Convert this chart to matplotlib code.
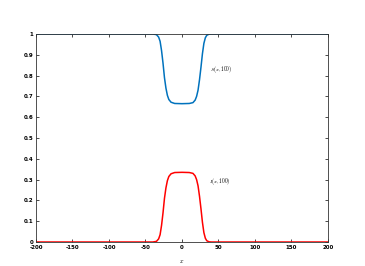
import matplotlib
matplotlib.use("Agg")
import matplotlib.pyplot as plt

plt.rcParams["mathtext.fontset"] = "cm"

# values (x, S(x,100), I(x,100))
x_pts = [-200, -40, -35, -32, -30, -28, -26, -24, -22, -20, -18, -15, -10, 0,
         10, 15, 18, 20, 22, 24, 26, 28, 30, 32, 34, 37, 40, 200]
i_vals = [0, 0, 0.003, 0.015, 0.035, 0.08, 0.14, 0.21, 0.26, 0.295, 0.315, 0.328,
          0.334, 0.335, 0.334, 0.33, 0.318, 0.30, 0.27, 0.22, 0.16, 0.095, 0.045,
          0.018, 0.006, 0.001, 0, 0]
s_vals = [1, 1, 0.997, 0.985, 0.965, 0.92, 0.86, 0.79, 0.74, 0.705, 0.685, 0.672,
          0.666, 0.665, 0.666, 0.67, 0.682, 0.70, 0.73, 0.78, 0.84, 0.905, 0.955,
          0.982, 0.994, 0.999, 1, 1]
x_ticks = [-200, -150, -100, -50, 0, 50, 100, 150, 200]
y_ticks = [0, 0.1, 0.2, 0.3, 0.4, 0.5, 0.6, 0.7, 0.8, 0.9, 1]

fig = plt.figure(figsize=(3.65, 2.66), dpi=100)
ax = fig.add_axes([0.0986, 0.0902, 0.8, 0.782])
ax.plot(x_pts, s_vals, color="#0072BD", lw=1.1)
ax.plot(x_pts, i_vals, color="red", lw=1.1)
ax.set_xlim(-200, 200)
ax.set_ylim(0, 1)
ax.set_xticks(x_ticks)
ax.set_yticks(y_ticks)
ax.set_xticklabels([f"{v:g}" for v in x_ticks])
ax.set_yticklabels([f"{v:g}" for v in y_ticks])
ax.tick_params(direction="in", length=2, width=0.5, labelsize=4,
               top=True, right=True, pad=2)
for lab in ax.get_xticklabels() + ax.get_yticklabels():
    lab.set_fontweight("bold")
for sp in ax.spines.values():
    sp.set_linewidth(0.6)
    sp.set_color("#333333")

ax.text(39, 0.83, r"$S(x,100)$", fontsize=3.8, va="center")
ax.text(37, 0.293, r"$I(x,100)$", fontsize=3.8, va="center")
ax.set_xlabel(r"$x$", fontsize=4.5, labelpad=6)

fig.savefig("out.png", dpi=100)
